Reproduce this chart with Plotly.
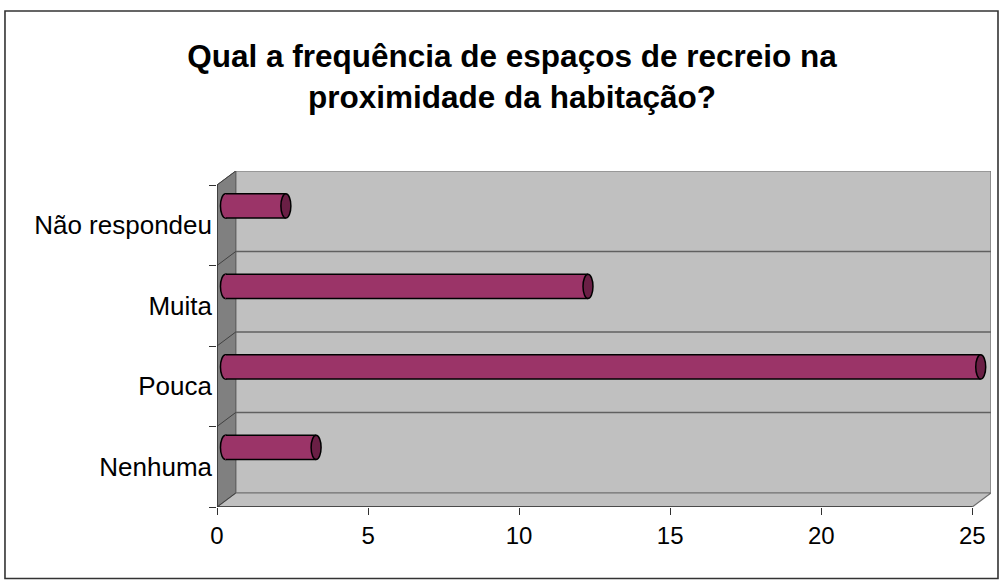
import plotly.graph_objects as go

# ---- data ----
categories = ["Nenhuma", "Pouca", "Muita", "Não respondeu"]
values = [3, 25, 12, 2]
x_ticks = [0, 5, 10, 15, 20, 25]
title_text = "Qual a frequência de espaços de recreio na<br>proximidade da habitação?"

# ---- 3D-look geometry (in axis units) ----
W, H = 1005, 584
DX = 0.62      # depth shift along value axis
DY = 0.174     # depth shift along category axis
XMAX = 25
BASE = 0.28    # bar sits at mid depth
BAR_SHIFT = 0.24
BAR_W = 0.30
CAP_RX = 0.165
BAR_COLOR = "#9b3468"
CAP_COLOR = "#6a1f45"

ncat = len(categories)
y0, y1 = -0.5, ncat - 0.5
ML, MT, MB = 217.3, 171, 77
MR = W - (217.3 + (XMAX + DX) * 30.18)

fig = go.Figure()
fig.add_trace(go.Bar(
    y=categories, x=values, base=BASE, orientation="h",
    width=BAR_W, offset=BAR_SHIFT - BAR_W / 2,
    marker=dict(color=BAR_COLOR, line=dict(width=0)),
    hoverinfo="x+y",
))

shapes = []
gray = "#808080"
wall = "#c0c0c0"
# back wall
shapes.append(dict(type="rect", xref="x", yref="y", x0=DX, x1=XMAX + DX, y0=y0 + DY, y1=y1 + DY,
                   fillcolor=wall, line=dict(color="#707070", width=1.2), layer="below"))
# side wall
shapes.append(dict(type="path", xref="x", yref="y",
                   path=f"M0,{y0} L{DX},{y0+DY} L{DX},{y1+DY} L0,{y1} Z",
                   fillcolor=gray, line=dict(color="#606060", width=1), layer="below"))
# floor
shapes.append(dict(type="path", xref="x", yref="y",
                   path=f"M0,{y0} L{DX},{y0+DY} L{XMAX+DX},{y0+DY} L{XMAX},{y0} Z",
                   fillcolor=wall, line=dict(color="#707070", width=1.2), layer="below"))
# gridlines on back wall + diagonals on side wall
for k in range(ncat + 1):
    yb = y0 + k
    if 0 < k < ncat:
        shapes.append(dict(type="line", xref="x", yref="y", x0=DX, x1=XMAX + DX, y0=yb + DY, y1=yb + DY,
                           line=dict(color="#606060", width=1.3), layer="below"))
    shapes.append(dict(type="line", xref="x", yref="y", x0=0, x1=DX, y0=yb, y1=yb + DY,
                       line=dict(color="#404040", width=1), layer="below"))
# left rounded ends (below bars)
for i, v in enumerate(values):
    yc = i + BAR_SHIFT
    shapes.append(dict(type="circle", xref="x", yref="y",
                       x0=BASE - CAP_RX, x1=BASE + CAP_RX, y0=yc - BAR_W / 2, y1=yc + BAR_W / 2,
                       fillcolor=BAR_COLOR, line=dict(color="black", width=1.5), layer="below"))
# bar outlines and right caps (above)
for i, v in enumerate(values):
    yc = i + BAR_SHIFT
    for yy in (yc - BAR_W / 2, yc + BAR_W / 2):
        shapes.append(dict(type="line", xref="x", yref="y", x0=BASE, x1=BASE + v, y0=yy, y1=yy,
                           line=dict(color="black", width=1.5), layer="above"))
    shapes.append(dict(type="circle", xref="x", yref="y",
                       x0=BASE + v - CAP_RX, x1=BASE + v + CAP_RX, y0=yc - BAR_W / 2, y1=yc + BAR_W / 2,
                       fillcolor=CAP_COLOR, line=dict(color="black", width=1.5), layer="above"))
# front axis lines
shapes.append(dict(type="line", xref="x", yref="y", x0=0, x1=XMAX, y0=y0, y1=y0,
                   line=dict(color="#303030", width=1.5), layer="above"))
shapes.append(dict(type="line", xref="x", yref="y", x0=0, x1=0, y0=y0, y1=y1,
                   line=dict(color="#303030", width=1.5), layer="above"))
# chart border (paper coords from pixel frame)
pw = W - ML - MR
ph = H - MT - MB
def px(x): return (x - ML) / pw
def py(y): return 1 - (y - MT) / ph
shapes.append(dict(type="rect", xref="paper", yref="paper",
                   x0=px(5.5), x1=px(997.5), y0=py(11), y1=py(578.5),
                   line=dict(color="#333333", width=1.6), fillcolor="rgba(0,0,0,0)", layer="above"))

fig.update_layout(
    width=W, height=H,
    margin=dict(l=ML, r=MR, t=MT, b=MB, autoexpand=False),
    paper_bgcolor="white", plot_bgcolor="rgba(0,0,0,0)",
    showlegend=False,
    bargap=0,
    font=dict(family="Liberation Sans, Arial, sans-serif", color="black", size=24),
    title=dict(text=title_text, x=512 / W, xanchor="center", xref="container",
               y=1 - 67 / H, yanchor="top", yref="container",
               font=dict(size=31.5, family="Liberation Sans, Arial, sans-serif", color="black", weight="bold")),
    shapes=shapes,
    xaxis=dict(range=[0, XMAX + DX], tickvals=x_ticks, ticks="outside", ticklen=7, tickcolor="#303030",
               showgrid=False, zeroline=False, showline=False, tickfont=dict(size=24)),
    yaxis=dict(type="category", categoryorder="array", categoryarray=categories,
               range=[y0, y1 + DY], tickson="boundaries", ticks="outside", ticklen=7, tickcolor="#303030",
               showgrid=False, zeroline=False, showline=False, tickfont=dict(size=26),
               ticklabelstandoff=4),
)
fig.write_html("out.html", config={"displayModeBar": False},
               post_script="document.body.style.margin='0';document.body.style.overflow='hidden';")
